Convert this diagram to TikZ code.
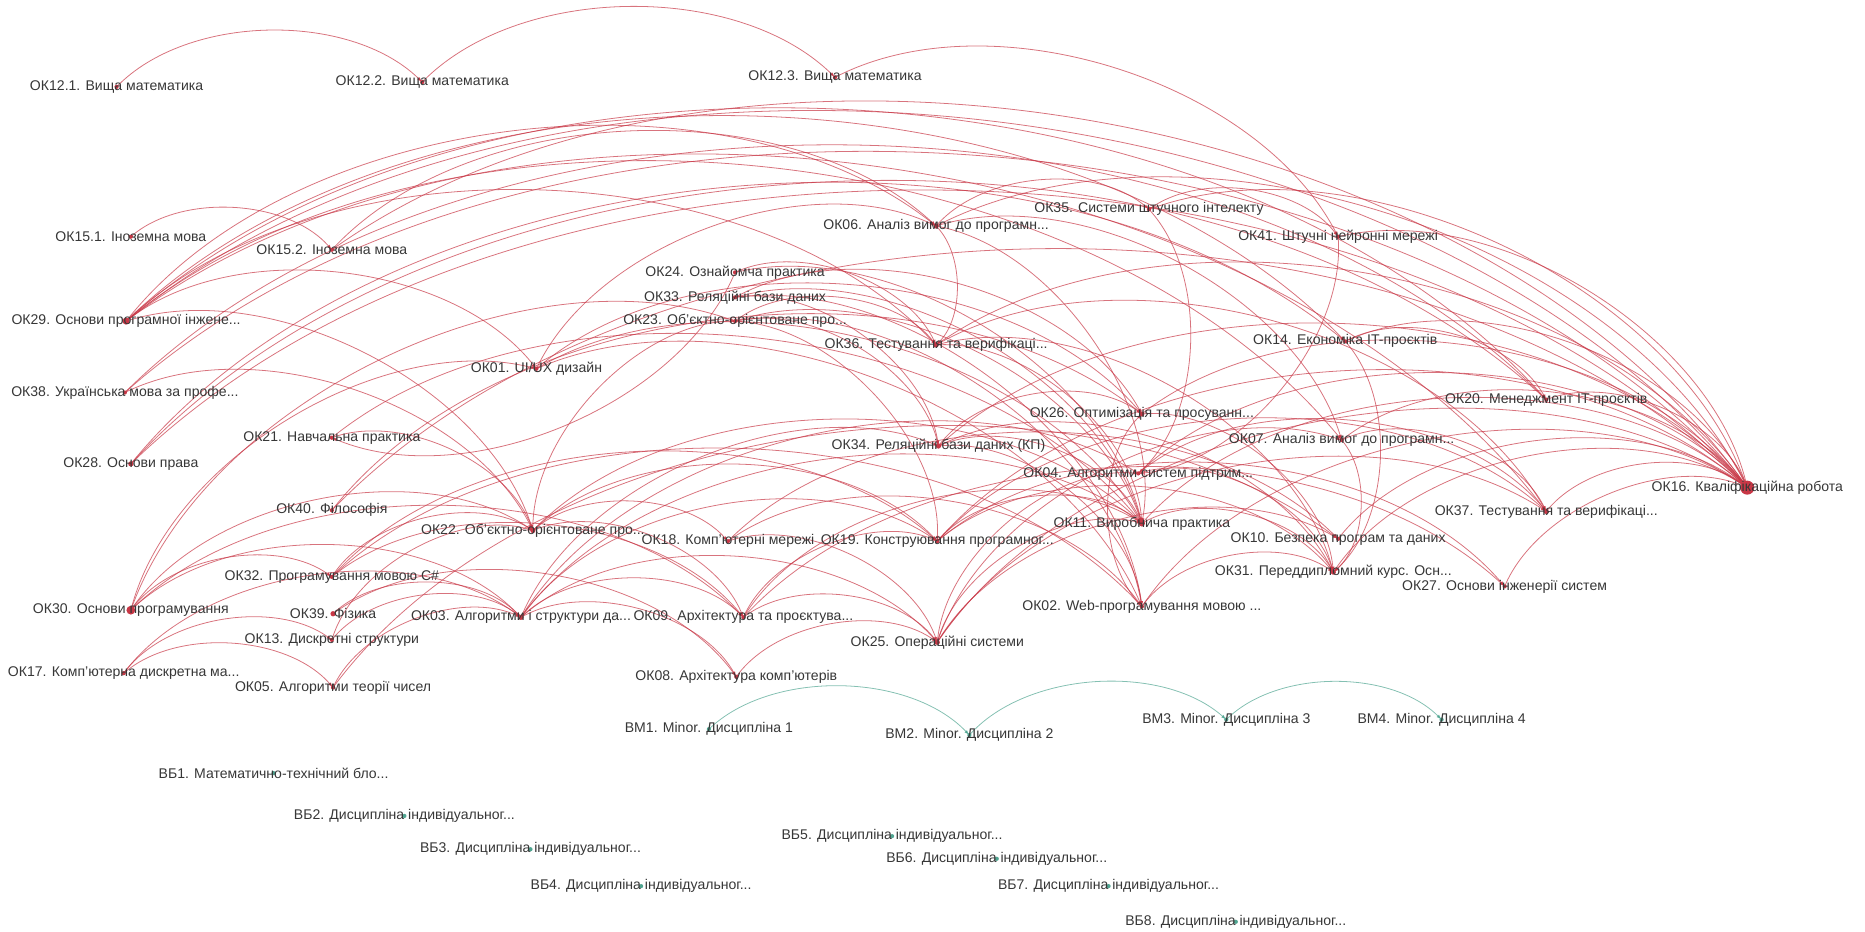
\documentclass[tikz,border=0pt]{standalone}
\usepackage{fontspec}
\setmainfont{Liberation Sans}
\usetikzlibrary{arrows.meta}

\definecolor{okred}{RGB}{200,55,70}
\definecolor{bmteal}{RGB}{80,165,145}
\definecolor{lblgray}{RGB}{55,55,55}

% nodes: name/x/y/dot radius/label
\def\oklist{ok121/98/73/1.2/{ОК12.1. Вища математика},
  ok122/355/69/1.2/{ОК12.2. Вища математика},
  ok123/702/65/1.2/{ОК12.3. Вища математика},
  ok151/110/199/1.2/{ОК15.1. Іноземна мова},
  ok152/279/210/1.2/{ОК15.2. Іноземна мова},
  ok29/106/270/2/{ОК29. Основи програмної інжене...},
  ok38/105/330/1.2/{ОК38. Українська мова за профе...},
  ok28/110/390/1.5/{ОК28. Основи права},
  ok21/279/368/1.2/{ОК21. Навчальна практика},
  ok40/279/429/1.2/{ОК40. Філософія},
  ok32/279/485/1.2/{ОК32. Програмування мовою C\#},
  ok30/110/513/2.5/{ОК30. Основи програмування},
  ok39/280/516/1.5/{ОК39. Фізика},
  ok13/279/538/1.2/{ОК13. Дискретні структури},
  ok17/104/566/1.2/{ОК17. Комп’ютерна дискретна ма...},
  ok05/280/578/1.2/{ОК05. Алгоритми теорії чисел},
  ok01/451/310/1.2/{ОК01. UI/UX дизайн},
  ok22/448/446/1.5/{ОК22. Об’єктно-орієнтоване про...},
  ok03/438/519/1.5/{ОК03. Алгоритми і структури да...},
  ok24/618/229/1.2/{ОК24. Ознайомча практика},
  ok33/618/250/1.2/{ОК33. Реляційні бази даних},
  ok23/618/270/1.2/{ОК23. Об’єктно-орієнтоване про...},
  ok06/787/190/1.5/{ОК06. Аналіз вимог до програмн...},
  ok36/787/290/1.5/{ОК36. Тестування та верифікаці...},
  ok34/789/375/1.5/{ОК34. Реляційні бази даних (КП)},
  ok18/612/455/1.2/{ОК18. Комп’ютерні мережі},
  ok19/788/455/1.2/{ОК19. Конструювання програмног...},
  ok09/625/519/1.2/{ОК09. Архітектура та проєктува...},
  ok08/619/569/1.2/{ОК08. Архітектура комп’ютерів},
  ok25/788/540/1.5/{ОК25. Операційні системи},
  ok35/966/176/1.2/{ОК35. Системи штучного інтелекту},
  ok26/960/348/1.5/{ОК26. Оптимізація та просуванн...},
  ok04/957/398/1.2/{ОК04. Алгоритми систем підтрим...},
  ok11/960/440/1.8/{ОК11. Виробнича практика},
  ok02/960/510/1.2/{ОК02. Web-програмування мовою ...},
  ok41/1125/199/1.2/{ОК41. Штучні нейронні мережі},
  ok14/1131/287/1.2/{ОК14. Економіка IT-проєктів},
  ok07/1128/370/1.2/{ОК07. Аналіз вимог до програмн...},
  ok10/1125/453/1.2/{ОК10. Безпека програм та даних},
  ok31/1121/481/1.5/{ОК31. Переддипломний курс. Осн...},
  ok20/1300/336/1.2/{ОК20. Менеджмент IT-проєктів},
  ok37/1300/430/1.5/{ОК37. Тестування та верифікаці...},
  ok27/1265/493/1.2/{ОК27. Основи інженерії систем},
  ok16/1469/410/4/{ОК16. Кваліфікаційна робота}}

\def\vblist{bm1/596/613/{ВМ1. Minor. Дисципліна 1},
  bm2/815/618/{ВМ2. Minor. Дисципліна 2},
  bm3/1031/605/{ВМ3. Minor. Дисципліна 3},
  bm4/1212/605/{ВМ4. Minor. Дисципліна 4},
  vb1/230/650/{ВБ1. Математично-технічний бло...},
  vb2/340/686/{ВБ2. Дисципліна індивідуальног...},
  vb3/446/714/{ВБ3. Дисципліна індивідуальног...},
  vb4/539/745/{ВБ4. Дисципліна індивідуальног...},
  vb5/750/703/{ВБ5. Дисципліна індивідуальног...},
  vb6/838/722/{ВБ6. Дисципліна індивідуальног...},
  vb7/932/745/{ВБ7. Дисципліна індивідуальног...},
  vb8/1039/775/{ВБ8. Дисципліна індивідуальног...}}

\begin{document}
\begin{tikzpicture}[x=0.02379cm, y=-0.02379cm,
  edge/.style={draw=okred, draw opacity=0.7, line width=0.45pt,
    bend left=45, looseness=0.85, -{Latex[length=3pt,width=2pt]}},
  minor edge/.style={edge, draw=bmteal},
  lbl/.style={text=lblgray, inner sep=0pt, font=\fontsize{8}{9}\selectfont}]
  \useasboundingbox (0,0) rectangle (1568,783);

  \foreach \n/\x/\y/\r/\t in \oklist
    \coordinate (\n) at (\x,\y);
  \foreach \n/\x/\y/\t in \vblist
    \coordinate (\n) at (\x,\y);

  % prerequisites
  \foreach \a/\b in {ok121/ok122, ok122/ok123, ok123/ok41, ok151/ok152,
    ok29/ok01, ok29/ok06, ok06/ok35, ok29/ok07, ok29/ok36, ok29/ok14,
    ok29/ok20, ok29/ok16, ok29/ok37, ok29/ok22,
    ok152/ok16, ok152/ok06, ok38/ok16, ok38/ok20, ok38/ok22,
    ok28/ok14, ok28/ok20, ok28/ok16,
    ok21/ok11, ok21/ok22, ok24/ok21, ok24/ok11, ok24/ok36,
    ok33/ok34, ok33/ok26, ok33/ok02, ok33/ok11,
    ok23/ok36, ok23/ok19, ok23/ok34, ok23/ok11, ok23/ok02,
    ok22/ok23, ok22/ok19, ok22/ok11, ok22/ok09, ok22/ok18,
    ok01/ok26, ok01/ok02, ok01/ok11, ok01/ok06,
    ok06/ok36, ok06/ok07, ok06/ok16, ok06/ok11,
    ok36/ok37, ok36/ok16, ok36/ok31, ok36/ok11,
    ok35/ok41, ok35/ok16, ok35/ok04, ok41/ok16, ok41/ok04,
    ok14/ok20, ok14/ok16, ok14/ok31, ok20/ok16,
    ok34/ok26, ok34/ok11, ok34/ok16, ok34/ok02, ok34/ok31,
    ok26/ok16, ok26/ok31, ok07/ok37, ok07/ok16, ok07/ok31,
    ok04/ok16, ok04/ok31, ok04/ok37, ok11/ok16, ok11/ok31,
    ok10/ok16, ok31/ok16, ok37/ok16, ok27/ok16,
    ok02/ok16, ok02/ok31, ok02/ok26,
    ok19/ok37, ok19/ok27, ok19/ok16, ok19/ok11, ok19/ok31,
    ok18/ok10, ok18/ok02, ok18/ok25,
    ok09/ok19, ok09/ok11, ok09/ok27, ok09/ok25,
    ok25/ok11, ok25/ok10, ok25/ok04, ok25/ok07, ok25/ok37, ok25/ok16,
    ok08/ok25, ok39/ok08, ok03/ok08,
    ok03/ok09, ok03/ok19, ok03/ok11, ok03/ok04, ok03/ok25, ok03/ok34,
    ok32/ok22, ok32/ok19, ok32/ok09, ok32/ok02,
    ok30/ok32, ok30/ok22, ok30/ok03, ok30/ok23, ok30/ok01, ok30/ok09,
    ok40/ok16, ok40/ok26, ok13/ok03, ok13/ok22,
    ok17/ok13, ok17/ok05, ok17/ok03, ok05/ok03, ok05/ok10, ok39/ok03}
    \draw[edge] (\a) to (\b);
  \foreach \a/\b in {bm1/bm2, bm2/bm3, bm3/bm4}
    \draw[minor edge] (\a) to (\b);

  \foreach \n/\x/\y/\r/\t in \oklist {
    \fill[okred] (\n) circle[radius=\r pt];
    \node[lbl] (\n-l) at (\n) {\t};
  }
  \foreach \n/\x/\y/\t in \vblist {
    \fill[bmteal] (\n) circle[radius=1.2pt];
    \node[lbl] (\n-l) at (\n) {\t};
  }
\end{tikzpicture}
\end{document}
